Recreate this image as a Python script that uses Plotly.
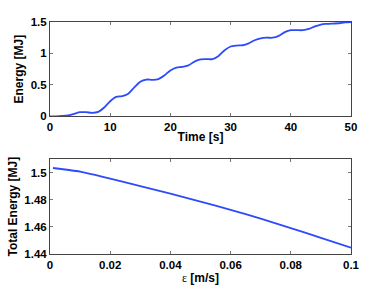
import plotly.graph_objects as go
from plotly.subplots import make_subplots

# Top panel: energy vs time
time_s = list(range(0, 51))
energy_mj = [0.00, 0.00, 0.005, 0.015, 0.04, 0.065, 0.065, 0.055, 0.07, 0.14,
             0.24, 0.31, 0.32, 0.36, 0.46, 0.55, 0.585, 0.58, 0.59, 0.65,
             0.73, 0.775, 0.785, 0.81, 0.87, 0.905, 0.91, 0.91, 0.96, 1.05,
             1.11, 1.125, 1.13, 1.16, 1.21, 1.24, 1.25, 1.25, 1.28, 1.34,
             1.37, 1.37, 1.37, 1.39, 1.43, 1.46, 1.47, 1.475, 1.48, 1.495,
             1.50]

# Bottom panel: total energy vs epsilon
eps = [0.001, 0.005, 0.01, 0.015, 0.02, 0.03, 0.04, 0.05, 0.06, 0.07, 0.08, 0.09, 0.1]
total_energy = [1.5036, 1.5025, 1.5010, 1.4985, 1.4957, 1.4902, 1.4846, 1.4788,
                1.4727, 1.4661, 1.4592, 1.4520, 1.4447]

top_xticks = [0, 10, 20, 30, 40, 50]
top_xlabels = ["0", "10", "20", "30", "40", "50"]
top_yticks = [0, 0.5, 1, 1.5]
top_ylabels = ["0", "0.5", "1", "1.5"]
bot_xticks = [0, 0.02, 0.04, 0.06, 0.08, 0.1]
bot_xlabels = ["0", "0.02", "0.04", "0.06", "0.08", "0.1"]
bot_yticks = [1.44, 1.46, 1.48, 1.5]
bot_ylabels = ["1.44", "1.46", "1.48", "1.5"]


def bold(labels):
    return ["<b>" + s + "</b>" for s in labels]


blue = "rgb(45,75,250)"
fig = make_subplots(rows=2, cols=1)
fig.add_trace(go.Scatter(x=time_s, y=energy_mj, mode="lines",
                         line=dict(color=blue, width=1.8, shape="spline", smoothing=0.8)),
              row=1, col=1)
fig.add_trace(go.Scatter(x=eps, y=total_energy, mode="lines",
                         line=dict(color=blue, width=1.8, shape="spline", smoothing=0.5)),
              row=2, col=1)

tickfont = dict(family="Liberation Sans", size=11.5, color="black")
titlefont = dict(family="Liberation Sans", size=12, color="black")
axcommon = dict(showgrid=False, zeroline=False, showline=True, linecolor="#444",
                linewidth=1, mirror="ticks", ticks="inside", ticklen=3,
                tickcolor="#777", tickfont=tickfont, automargin=False)

fig.update_layout(
    width=388, height=291, showlegend=False,
    paper_bgcolor="white", plot_bgcolor="white",
    margin=dict(l=50, r=37, t=22, b=37),
    xaxis=dict(domain=[0, 1], range=[0, 50], tickvals=top_xticks, ticktext=bold(top_xlabels),
               title=dict(text="<b>Time [s]</b>", font=titlefont, standoff=0), **axcommon),
    yaxis=dict(domain=[0.5935, 1.0], range=[0, 1.5], tickvals=top_yticks,
               ticktext=bold(top_ylabels),
               title=dict(text="<b>Energy [MJ]</b>", font=titlefont, standoff=4), **axcommon),
    xaxis2=dict(domain=[0, 1], range=[0, 0.1], tickvals=bot_xticks, ticktext=bold(bot_xlabels),
                title=dict(text="<span style='font-family:Liberation Serif'>ε</span> <b>[m/s]</b>",
                           font=titlefont, standoff=0), **axcommon),
    yaxis2=dict(domain=[0, 0.408], range=[1.44, 1.51], tickvals=bot_yticks,
                ticktext=bold(bot_ylabels),
                title=dict(text="<b>Total Energy [MJ]</b>", font=titlefont, standoff=4), **axcommon),
)

fig.write_html("out.html", config={"displayModeBar": False},
               post_script="document.body.style.margin='0';")
